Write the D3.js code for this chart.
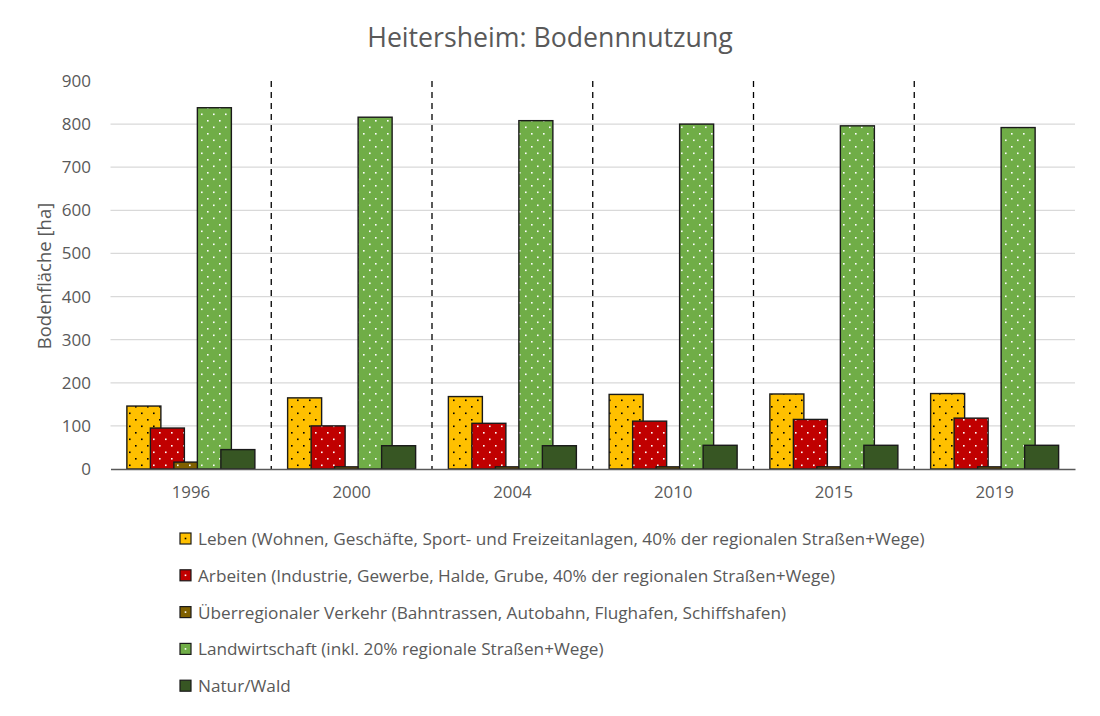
<!DOCTYPE html>
<html><head><meta charset="utf-8">
<script src="https://cdn.jsdelivr.net/npm/d3@7"></script>
<style>body{margin:0;background:#fff}svg{display:block;font-family:"Open Sans",sans-serif}</style>
</head><body>
<script>
const years = ["1996","2000","2004","2010","2015","2019"];
const seriesNames = [
 "Leben (Wohnen, Geschäfte, Sport- und Freizeitanlagen, 40% der regionalen Straßen+Wege)",
 "Arbeiten (Industrie, Gewerbe, Halde, Grube, 40% der regionalen Straßen+Wege)",
 "Überregionaler Verkehr (Bahntrassen, Autobahn, Flughafen, Schiffshafen)",
 "Landwirtschaft (inkl. 20% regionale Straßen+Wege)",
 "Natur/Wald"];
const leben = [146,165,168,173,174,175];
const arbeiten = [95,100,106,111,115,118];
const verkehr = [16,5,5,5,5,5];
const landwirtschaft = [838,816,808,800,796,792];
const natur = [45,54,54,55,55,55];
const yTicks = [0,100,200,300,400,500,600,700,800,900];
const colors = ["#FFC000","#C00000","#7F6000","#70AD47","#375623"];
const dotColors = ["#000","#fff","#fff","#fff",null];
const values = [leben, arbeiten, verkehr, landwirtschaft, natur];

const W=1100,H=716;
const svg=d3.select("body").append("svg").attr("width",W).attr("height",H);
const defs=svg.append("defs");
colors.forEach((c,i)=>{
  if(!dotColors[i]) return;
  const p=defs.append("pattern").attr("id","pat"+i).attr("patternUnits","userSpaceOnUse")
    .attr("width",12).attr("height",13);
  p.append("rect").attr("width",12).attr("height",13).attr("fill",c);
  p.append("rect").attr("x",3).attr("y",3).attr("width",1.6).attr("height",1.6).attr("fill",dotColors[i]);
  p.append("rect").attr("x",9).attr("y",9.5).attr("width",1.6).attr("height",1.6).attr("fill",dotColors[i]);
});
const fillOf=i=>dotColors[i]?`url(#pat${i})`:colors[i];

const m={l:110.5,r:1075,t:81,b:469};
const x=d3.scaleBand().domain(years).range([m.l,m.r]).padding(0);
const y=d3.scaleLinear().domain([0,900]).range([m.b,m.t]);

svg.append("text").attr("x",550).attr("y",47).attr("text-anchor","middle")
  .attr("font-size",26.7).attr("fill","#595959").text("Heitersheim: Bodennnutzung");

// gridlines
svg.append("g").selectAll("line").data(yTicks.filter(d=>d>0 && d<900)).join("line")
  .attr("x1",m.l).attr("x2",m.r).attr("y1",d=>y(d)).attr("y2",d=>y(d))
  .attr("stroke","#D9D9D9").attr("stroke-width",1.3);

// y axis
const ya=svg.append("g").attr("transform",`translate(${m.l},0)`)
  .call(d3.axisLeft(y).tickValues(yTicks).tickSize(0).tickPadding(19.5));
ya.select(".domain").remove();
ya.selectAll("text").attr("font-size",17).attr("fill","#595959").attr("font-family","Open Sans");

svg.append("text").attr("transform",`translate(51,276) rotate(-90)`).attr("text-anchor","middle")
  .attr("font-size",18.5).attr("fill","#595959").text("Bodenfläche [ha]");

// dividers
svg.append("g").selectAll("line").data(years.slice(1)).join("line")
  .attr("x1",d=>x(d)).attr("x2",d=>x(d)).attr("y1",m.t).attr("y2",m.b)
  .attr("stroke","#000").attr("stroke-width",1.3).attr("stroke-dasharray","6,5");

// bars
const bw=34, step=23.5, groupW=bw+4*step;
values.forEach((vals,i)=>{
  svg.append("g").selectAll("rect").data(years).join("rect")
    .attr("x",(d)=>x(d)+x.bandwidth()/2-groupW/2+i*step)
    .attr("y",(d,j)=>y(vals[j])).attr("width",bw)
    .attr("height",(d,j)=>y(0)-y(vals[j]))
    .attr("fill",fillOf(i)).attr("stroke","#1a1a1a").attr("stroke-width",1.4);
});

// x axis
const xa=svg.append("g").attr("transform",`translate(0,${m.b})`)
  .call(d3.axisBottom(x).tickSize(0).tickPadding(17));
xa.select(".domain").attr("stroke","#595959").attr("stroke-width",1.5);
xa.selectAll("text").attr("font-size",16.8).attr("fill","#595959").attr("font-family","Open Sans");

// legend
const lg=svg.append("g");
seriesNames.forEach((n,i)=>{
  const yy=539+i*36.8;
  lg.append("rect").attr("x",180).attr("y",yy-6).attr("width",11).attr("height",11)
    .attr("fill",colors[i]).attr("stroke","#1a1a1a").attr("stroke-width",1.2);
  if(dotColors[i]) lg.append("rect").attr("x",184.7).attr("y",yy-1.3).attr("width",1.6).attr("height",1.6).attr("fill",dotColors[i]);
  lg.append("text").attr("x",198).attr("y",yy).attr("dy","0.35em")
    .attr("font-size",17.2).attr("fill","#595959").text(n);
});
</script>
</body></html>
